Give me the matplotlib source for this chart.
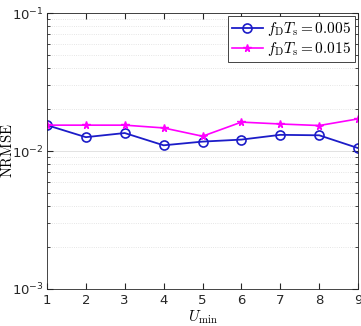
import matplotlib
matplotlib.use('Agg')
import matplotlib.pyplot as plt
from matplotlib.ticker import LogLocator, NullFormatter

u_min = [1, 2, 3, 4, 5, 6, 7, 8, 9]
nrmse_005 = [0.0154, 0.0126, 0.0135, 0.0110, 0.0117, 0.0121, 0.0131, 0.0130, 0.0105]
nrmse_015 = [0.0154, 0.0154, 0.0154, 0.0147, 0.0128, 0.0162, 0.0157, 0.0153, 0.0171]

plt.rcParams['mathtext.fontset'] = 'cm'
plt.rcParams['font.family'] = 'DejaVu Sans'

fig = plt.figure(figsize=(3.61, 3.26), dpi=100)
ax = fig.add_axes([0.130, 0.1135, 0.862, 0.8465])

ax.plot(u_min, nrmse_005, color='#1c1cc8', marker='o', markersize=6.5, markerfacecolor='none',
        markeredgewidth=1.2, linewidth=1.3, label=r'$f_{\mathrm{D}}T_{\mathrm{s}}=0.005$')
ax.plot(u_min, nrmse_015, color='#ff00ff', marker='*', markersize=5.5, linewidth=1.2,
        label=r'$f_{\mathrm{D}}T_{\mathrm{s}}=0.015$')

ax.set_yscale('log')
ax.set_ylim(1e-3, 1e-1)
ax.set_xlim(1, 9)
ax.set_xticks(u_min)
ax.yaxis.set_minor_locator(LogLocator(base=10, subs=range(2, 10)))
ax.yaxis.set_minor_formatter(NullFormatter())

ax.yaxis.grid(True, which='major', color='#dddddd', linewidth=0.6)
ax.yaxis.grid(True, which='minor', color='#dddddd', linewidth=0.6, linestyle=':')
ax.tick_params(which='both', direction='in', top=True, right=True, labelsize=9.5, colors='#262626')
ax.tick_params(axis='y', which='major', pad=2)
ax.tick_params(which='major', length=4)
ax.tick_params(which='minor', length=2)
for s in ax.spines.values():
    s.set_color('#262626')
    s.set_linewidth(0.6)

ax.set_xlabel(r'$U_{\min}$', fontsize=11, labelpad=1)
ax.set_ylabel(r'$\mathrm{NRMSE}$', fontsize=10.5)
ax.yaxis.set_label_coords(-0.103, 0.5)

leg = ax.legend(loc='upper right', fontsize=11, fancybox=False, framealpha=1,
                edgecolor='#262626', borderpad=0.25, handlelength=2.0, handletextpad=0.3,
                labelspacing=0.15, borderaxespad=0.2)
leg.get_frame().set_linewidth(0.6)

fig.savefig('out.png', dpi=100)
